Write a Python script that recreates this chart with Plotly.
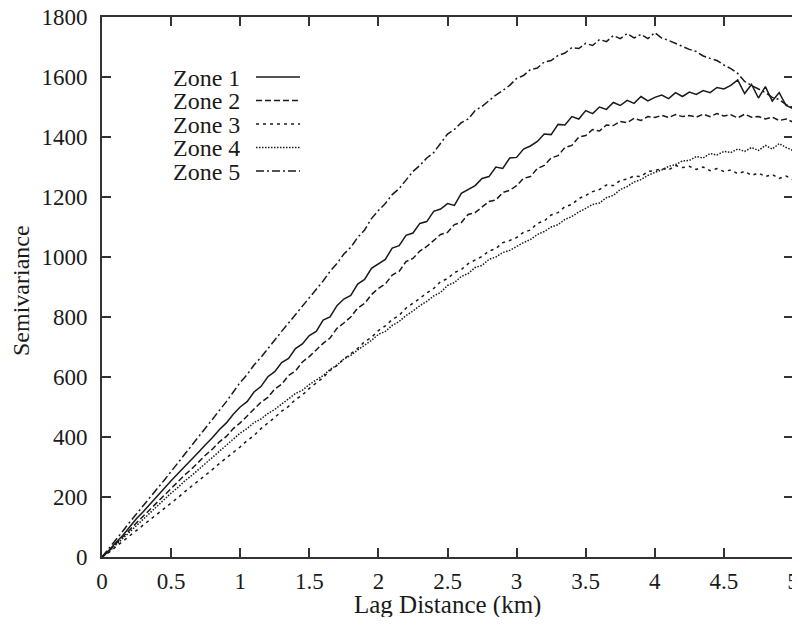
import plotly.graph_objects as go

lag_km = [0.00, 0.05, 0.10, 0.15, 0.20, 0.25, 0.30, 0.35, 0.40, 0.45,
          0.50, 0.55, 0.60, 0.65, 0.70, 0.75, 0.80, 0.85, 0.90, 0.95,
          1.00, 1.05, 1.10, 1.15, 1.20, 1.25, 1.30, 1.35, 1.40, 1.45,
          1.50, 1.55, 1.60, 1.65, 1.70, 1.75, 1.80, 1.85, 1.90, 1.95,
          2.00, 2.05, 2.10, 2.15, 2.20, 2.25, 2.30, 2.35, 2.40, 2.45,
          2.50, 2.55, 2.60, 2.65, 2.70, 2.75, 2.80, 2.85, 2.90, 2.95,
          3.00, 3.05, 3.10, 3.15, 3.20, 3.25, 3.30, 3.35, 3.40, 3.45,
          3.50, 3.55, 3.60, 3.65, 3.70, 3.75, 3.80, 3.85, 3.90, 3.95,
          4.00, 4.05, 4.10, 4.15, 4.20, 4.25, 4.30, 4.35, 4.40, 4.45,
          4.50, 4.55, 4.60, 4.65, 4.70, 4.75, 4.80, 4.85, 4.90, 4.95,
          5.00]

zone1 = [0, 22, 48, 72, 100, 128, 152, 178, 203, 228,
         254, 278, 301, 327, 350, 375, 398, 425, 447, 476,
         500, 518, 550, 568, 601, 618, 648, 662, 695, 710,
         738, 752, 790, 800, 838, 860, 872, 910, 925, 962,
         978, 992, 1030, 1038, 1072, 1080, 1112, 1118, 1152, 1160,
         1178, 1172, 1212, 1225, 1238, 1262, 1268, 1300, 1295, 1330,
         1332, 1360, 1370, 1385, 1410, 1408, 1442, 1440, 1468, 1460,
         1488, 1478, 1500, 1492, 1515, 1505, 1522, 1512, 1535, 1520,
         1532, 1540, 1528, 1548, 1535, 1550, 1542, 1555, 1548, 1565,
         1560, 1572, 1590, 1545, 1575, 1530, 1568, 1520, 1548, 1505,
         1495]

zone2 = [0, 20, 44, 66, 90, 114, 137, 160, 184, 207,
         230, 250, 274, 294, 318, 340, 360, 384, 402, 428,
         447, 470, 490, 516, 532, 560, 576, 605, 620, 650,
         668, 690, 712, 730, 762, 780, 800, 830, 845, 875,
         895, 910, 940, 952, 985, 995, 1020, 1035, 1055, 1075,
         1082, 1108, 1115, 1142, 1148, 1165, 1185, 1190, 1215, 1222,
         1238, 1262, 1268, 1295, 1305, 1330, 1338, 1365, 1372, 1400,
         1405, 1425, 1420, 1440, 1438, 1452, 1448, 1462, 1455, 1468,
         1465, 1472, 1465, 1475, 1468, 1472, 1466, 1476, 1468, 1478,
         1470, 1474, 1464, 1476, 1466, 1468, 1460, 1466, 1455, 1460,
         1450]

zone3 = [0, 15, 34, 52, 72, 90, 108, 126, 144, 162,
         180, 198, 218, 236, 256, 275, 292, 312, 330, 350,
         367, 388, 405, 428, 445, 465, 486, 502, 525, 540,
         562, 580, 598, 622, 638, 660, 678, 695, 718, 732,
         755, 770, 792, 805, 830, 845, 862, 880, 895, 918,
         928, 948, 958, 978, 990, 1002, 1020, 1028, 1048, 1055,
         1065, 1082, 1090, 1112, 1120, 1140, 1148, 1168, 1175, 1195,
         1205, 1218, 1225, 1240, 1238, 1255, 1260, 1270, 1268, 1285,
         1288, 1295, 1290, 1305, 1298, 1302, 1292, 1300, 1288, 1295,
         1285, 1290, 1278, 1285, 1272, 1280, 1268, 1275, 1262, 1270,
         1258]

zone4 = [0, 18, 40, 62, 84, 106, 128, 150, 170, 192,
         213, 232, 254, 272, 292, 312, 330, 352, 372, 392,
         413, 428, 448, 460, 478, 492, 510, 525, 545, 556,
         575, 590, 605, 625, 640, 660, 672, 690, 706, 722,
         742, 752, 772, 785, 805, 820, 838, 852, 870, 882,
         905, 915, 935, 945, 965, 972, 992, 1000, 1015, 1022,
         1035, 1048, 1058, 1075, 1085, 1100, 1108, 1125, 1135, 1150,
         1162, 1175, 1180, 1198, 1205, 1225, 1235, 1250, 1258, 1272,
         1282, 1290, 1302, 1308, 1320, 1322, 1335, 1330, 1345, 1340,
         1352, 1348, 1360, 1352, 1365, 1355, 1372, 1360, 1378, 1365,
         1355]

zone5 = [0, 28, 58, 86, 116, 145, 172, 200, 228, 256,
         285, 312, 340, 370, 398, 428, 458, 488, 518, 550,
         582, 608, 640, 665, 695, 722, 752, 780, 808, 838,
         864, 895, 920, 952, 978, 1010, 1032, 1065, 1090, 1128,
         1155, 1178, 1208, 1228, 1258, 1285, 1305, 1330, 1348, 1378,
         1410, 1425, 1448, 1460, 1488, 1502, 1522, 1540, 1555, 1572,
         1595, 1605, 1625, 1630, 1650, 1655, 1672, 1680, 1698, 1695,
         1712, 1705, 1725, 1718, 1738, 1728, 1745, 1730, 1742, 1728,
         1748, 1730, 1722, 1712, 1700, 1692, 1685, 1670, 1662, 1655,
         1640, 1628, 1612, 1585, 1572, 1560, 1548, 1532, 1525, 1508,
         1498]

zone_names = ["Zone 1", "Zone 2", "Zone 3", "Zone 4", "Zone 5"]
zone_values = [zone1, zone2, zone3, zone4, zone5]
zone_dashes = ["solid", "6px,3px", "3px,4px", "1.5px,1.5px", "8px,3px,2px,3px"]

x_ticks = [0, 0.5, 1, 1.5, 2, 2.5, 3, 3.5, 4, 4.5, 5]
y_ticks = [0, 200, 400, 600, 800, 1000, 1200, 1400, 1600, 1800]
x_title = "Lag Distance (km)"
y_title = "Semivariance"

FONT = "Liberation Serif, Times New Roman, serif"
INK = "#1a1a1a"

# The page body adds an 8px margin on every side; figure size/margins
# compensate so the plot frame lands at x 102..793, y 17..557 in the
# 800x626 window and the page does not scroll.
PAGE_OFF = 8
W, H = 800 - PAGE_OFF, 626 - 2 * PAGE_OFF
M_L, M_R, M_T = 102 - PAGE_OFF, 7, 17 - PAGE_OFF
plot_h = 540
M_B = H - M_T - plot_h
plot_w = W - M_L - M_R
frame_top = M_T + PAGE_OFF          # window pixel row of the top frame line
frame_left = M_L + PAGE_OFF         # window pixel column of the left frame line


def py_to_paper(py):
    return (frame_top + plot_h - py) / plot_h


def px_to_paper(px):
    return (px - frame_left) / plot_w


fig = go.Figure()
for name, vals, dash in zip(zone_names, zone_values, zone_dashes):
    fig.add_trace(go.Scatter(x=lag_km, y=vals, mode="lines", name=name,
                             line=dict(color=INK, width=1.5, dash=dash),
                             showlegend=False))

# Legend drawn gnuplot-style: text on the left, line sample on the right
leg_rows_px = [77, 100.5, 124, 147.5, 171]   # window pixel rows
for name, dash, py in zip(zone_names, zone_dashes, leg_rows_px):
    yp = py_to_paper(py)
    fig.add_annotation(xref="paper", yref="paper", x=px_to_paper(241), y=yp,
                       text=name, showarrow=False, xanchor="right", yanchor="middle",
                       height=21, valign="middle", borderpad=0,
                       font=dict(family=FONT, size=24, color=INK))
    fig.add_shape(type="line", xref="paper", yref="paper",
                  x0=px_to_paper(256), x1=px_to_paper(300), y0=yp, y1=yp,
                  line=dict(color=INK, width=1.5, dash=dash))

# Axis titles placed as annotations for exact positioning
fig.add_annotation(xref="paper", yref="paper", x=px_to_paper(447), y=py_to_paper(605),
                   text=x_title, showarrow=False, xanchor="center", yanchor="middle",
                   height=24, borderpad=0,
                   font=dict(family=FONT, size=25, color=INK))
fig.add_annotation(xref="paper", yref="paper", x=px_to_paper(21), y=py_to_paper(291),
                   text=y_title, showarrow=False, textangle=-90,
                   xanchor="center", yanchor="middle",
                   font=dict(family=FONT, size=24, color=INK))

axis_common = dict(showline=True, linecolor="#333", linewidth=2, mirror="allticks",
                   ticks="inside", ticklen=9, tickwidth=1.5, tickcolor="#333",
                   showgrid=False, zeroline=False, ticklabeloverflow="allow",
                   automargin=False,
                   tickfont=dict(family=FONT, size=23, color=INK))

fig.update_xaxes(range=[0, 5], tickvals=x_ticks,
                 ticktext=[f"{v:g}" for v in x_ticks],
                 ticklabelstandoff=2, **axis_common)
fig.update_yaxes(range=[0, 1800], tickvals=y_ticks,
                 ticktext=[str(v) for v in y_ticks],
                 ticklabelstandoff=8, **axis_common)

fig.update_layout(width=W, height=H,
                  margin=dict(l=M_L, r=M_R, t=M_T, b=M_B, autoexpand=False),
                  paper_bgcolor="white", plot_bgcolor="white",
                  font=dict(family=FONT, color=INK))

fig.write_html("out.html")
